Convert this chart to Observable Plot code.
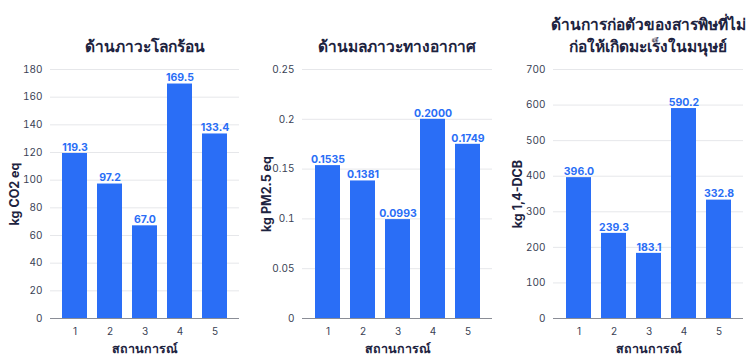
<!DOCTYPE html>
<html><head><meta charset="utf-8">
<script src="https://cdn.jsdelivr.net/npm/d3@7"></script>
<script src="https://cdn.jsdelivr.net/npm/@observablehq/plot@0.6"></script>
<style>
body{margin:0;background:#fff;font-family:Inter,"Noto Sans",sans-serif;}
#wrap{display:flex;width:752px;height:364px;}
.panel{display:flex;flex-direction:column;}
.title{height:58px;display:flex;flex-direction:column;justify-content:flex-end;align-items:center;font-weight:700;font-size:15.5px;color:#1d2340;line-height:22px;box-sizing:border-box;white-space:nowrap;}
svg{display:block;}
</style></head>
<body><div id="wrap"></div>
<script>
const scenarios = ["1","2","3","4","5"];
const titles = [["ด้านภาวะโลกร้อน"],["ด้านมลภาวะทางอากาศ"],["ด้านการก่อตัวของสารพิษที่ไม่","ก่อให้เกิดมะเร็งในมนุษย์"]];
const yLabels = ["kg CO2 eq","kg PM2.5 eq","kg 1,4-DCB"];
const xLabel = "สถานการณ์";
const globalWarming = [119.3, 97.2, 67.0, 169.5, 133.4];
const airPollution = [0.1535, 0.1381, 0.0993, 0.2000, 0.1749];
const toxicity = [396.0, 239.3, 183.1, 590.2, 332.8];
const yTicks = [[0,20,40,60,80,100,120,140,160,180],[0,0.05,0.1,0.15,0.2,0.25],[0,100,200,300,400,500,600,700]];
const yDomains = [[0,180],[0,0.25],[0,700]];
const labelFormats = [d=>d.toFixed(1), d=>d.toFixed(4), d=>d.toFixed(1)];
const series = [globalWarming, airPollution, toxicity];

const layout = [
  {w:250, ml:50, mr:11},
  {w:250, ml:52, mr:8},
  {w:252, ml:53, mr:9}
];
const blue = "#2a6ef6";
const wrap = document.getElementById("wrap");
series.forEach((vals, i) => {
  const data = scenarios.map((s, j) => ({s, v: vals[j]}));
  const panel = document.createElement("div");
  panel.className = "panel";
  panel.style.width = layout[i].w + "px";
  const t = document.createElement("div");
  t.className = "title";
  t.style.paddingLeft = layout[i].ml + "px";
  t.style.paddingRight = layout[i].mr + "px";
  titles[i].forEach(line => { const d = document.createElement("div"); d.textContent = line; t.appendChild(d); });
  panel.appendChild(t);
  const chart = Plot.plot({
    width: layout[i].w, height: 306,
    marginLeft: layout[i].ml, marginRight: layout[i].mr, marginTop: 11, marginBottom: 46,
    style: {fontFamily: 'Inter,"Noto Sans",sans-serif', fontSize: "10px", color: "#3a3f55", background: "#fff"},
    x: {domain: scenarios, padding: 0.3, label: xLabel, tickSize: 0, tickPadding: 9, labelAnchor: "center", labelOffset: 34},
    y: {domain: yDomains[i], ticks: yTicks[i], tickFormat: d => String(d), label: yLabels[i], tickSize: 0, tickPadding: 8, labelAnchor: "center", labelOffset: 40, labelArrow: "none"},
    marks: [
      Plot.gridY(yTicks[i], {stroke: "#e6e7ea", strokeOpacity: 1}),
      Plot.barY(data, {x: "s", y: "v", fill: blue}),
      Plot.ruleY([0], {stroke: "#8a8d96"}),
      Plot.text(data, {x: "s", y: "v", text: d => labelFormats[i](d.v), dy: -6, fill: blue, fontWeight: 700, fontSize: 10.5})
    ]
  });
  chart.querySelectorAll('[aria-label="x-axis label"] text, [aria-label="y-axis label"] text').forEach(el => {
    el.style.fontWeight = "700"; el.style.fontSize = "12.5px"; el.style.fill = "#1d2340";
  });
  panel.appendChild(chart);
  wrap.appendChild(panel);
});
</script></body></html>
